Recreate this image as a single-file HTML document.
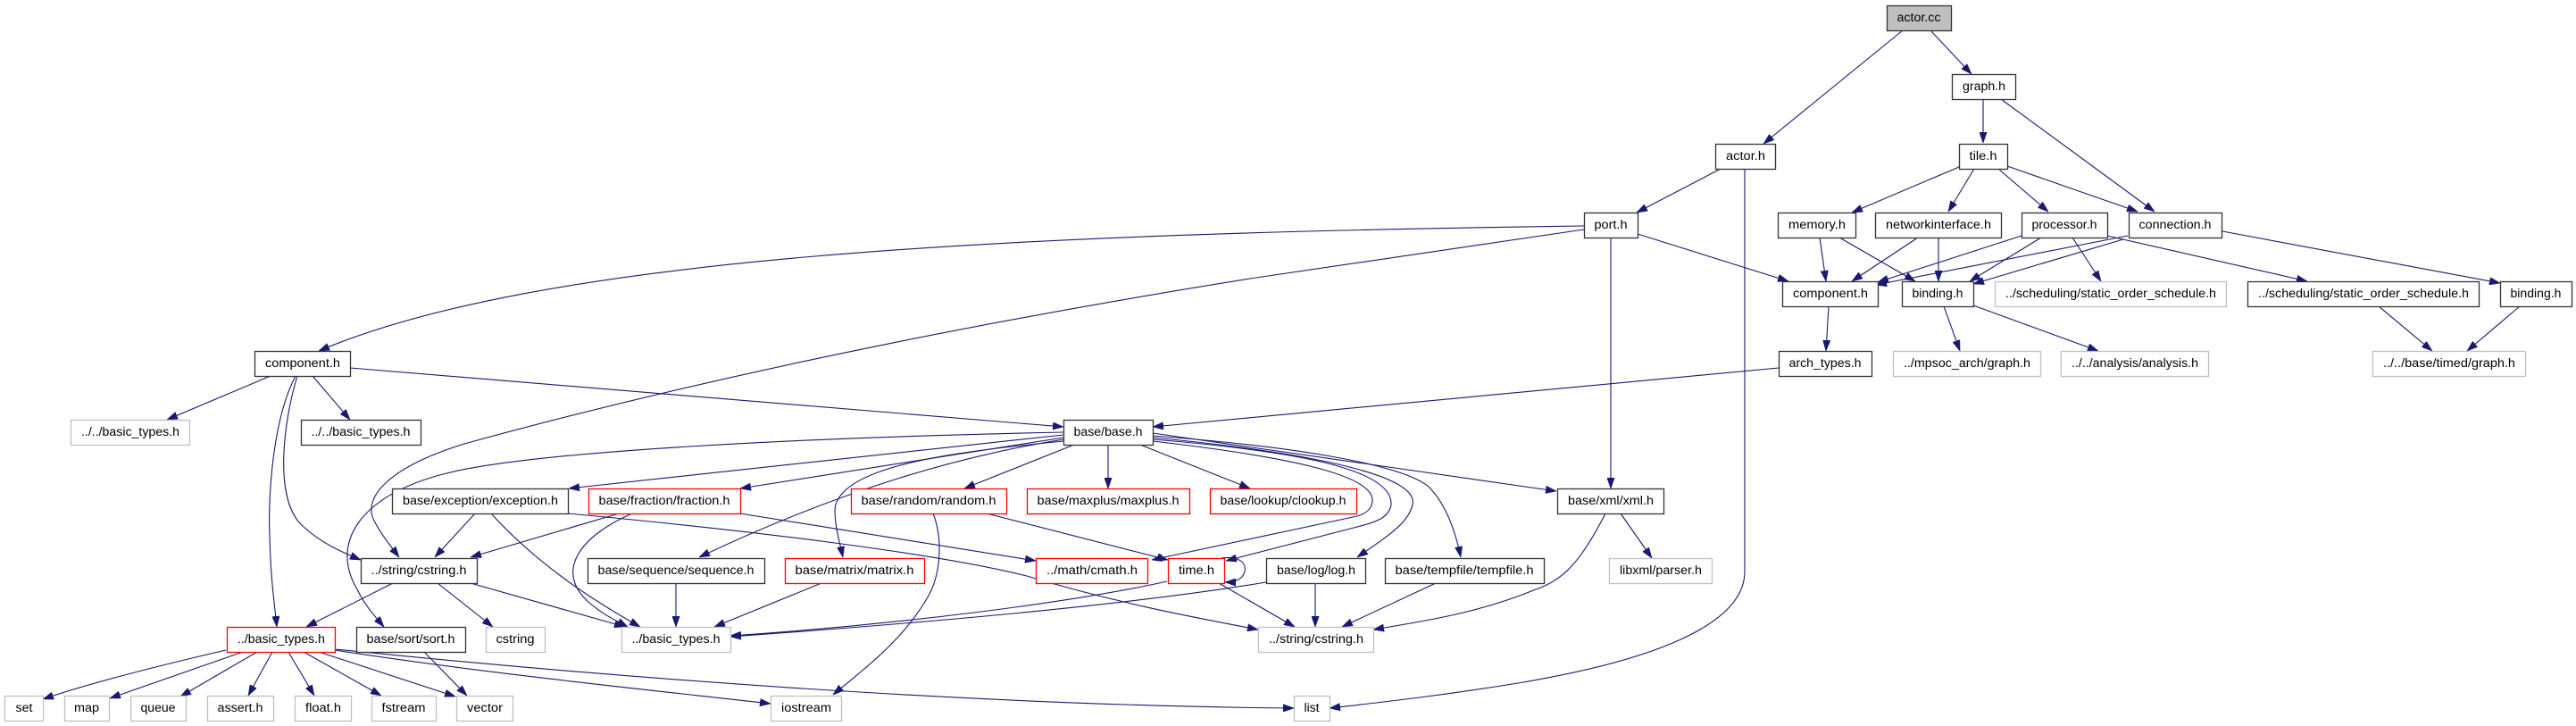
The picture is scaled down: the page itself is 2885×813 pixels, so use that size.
<!DOCTYPE html>
<html><head><meta charset="utf-8"><style>
html,body{margin:0;padding:0;background:#fff;}
svg{display:block;}
.e{fill:none;stroke:#191970;stroke-width:1.1;marker-end:url(#a);}
.n rect{fill:#fff;stroke:#333;stroke-width:1.3;}
.g rect{fill:#fff;stroke:#bfbfbf;stroke-width:1.3;}
.r rect{fill:#fff;stroke:#ff0000;stroke-width:1.3;}
text{font-family:"Liberation Sans",sans-serif;font-size:13.5px;fill:#000;text-anchor:middle;}
</style></head><body>
<svg width="2885" height="813" viewBox="0 0 2885 813" xmlns="http://www.w3.org/2000/svg">
<defs><marker id="a" viewBox="0 0 10 7" refX="10" refY="3.5" markerWidth="12" markerHeight="8.5" markerUnits="userSpaceOnUse" orient="auto"><path d="M0,0 L10,3.5 L0,7 z" fill="#191970" stroke="#191970" stroke-width="0.5"/></marker></defs>
<rect width="2885" height="813" fill="#fff"/>
<g>
<path class="e" d="M2131,34 L1975,161"/>
<path class="e" d="M2162,34 L2208,83"/>
<path class="e" d="M2221,111 L2221,160"/>
<path class="e" d="M2241,111 L2413,237"/>
<path class="e" d="M1927,189 L1833,238"/>
<path class="e" d="M1954,189 L1954,640 C1954,700 1850,740 1700,765 C1620,778 1560,785 1489,793"/>
<path class="e" d="M2194,187 L2074,238"/>
<path class="e" d="M2211,189 L2182,237"/>
<path class="e" d="M2238,189 L2294,237"/>
<path class="e" d="M2248,186 L2394,237"/>
<path class="e" d="M1834,262 L2003,315"/>
<path class="e" d="M1804,266 L1804,547"/>
<path class="e" d="M1774,253 C1100,262 600,290 357,393"/>
<path class="e" d="M1774,257 L1400,312 C1100,360 800,420 520,497 C430,525 405,560 420,585 C428,600 438,612 447,624"/>
<path class="e" d="M303,421 L187,470"/>
<path class="e" d="M350,421 L392,470"/>
<path class="e" d="M392,412 L1191,478"/>
<path class="e" d="M331,421 C305,470 300,560 302,600 C303,650 308,680 310,702"/>
<path class="e" d="M333,421 C318,470 305,560 340,590 C360,608 380,617 404,627"/>
<path class="e" d="M1191,487 L637,547"/>
<path class="e" d="M1191,490 L829,547"/>
<path class="e" d="M1191,492 C1080,510 950,545 783,624"/>
<path class="e" d="M1191,494 C1080,505 940,520 935,570 C935,590 940,605 944,624"/>
<path class="e" d="M1191,484 C900,490 600,505 500,530 C400,555 370,610 400,660 C410,680 420,690 430,702"/>
<path class="e" d="M1203,498 L1080,547"/>
<path class="e" d="M1241,498 L1241,547"/>
<path class="e" d="M1277,498 L1400,547"/>
<path class="e" d="M1291,485 L1743,550"/>
<path class="e" d="M1291,488 C1450,500 1570,520 1600,545 C1620,565 1630,595 1636,624"/>
<path class="e" d="M1291,490 C1450,505 1590,530 1582,565 C1578,585 1555,600 1520,624"/>
<path class="e" d="M1291,492 C1450,505 1560,525 1558,565 C1556,580 1540,585 1520,590 L1373,628"/>
<path class="e" d="M1291,494 C1430,510 1537,530 1537,560 C1537,570 1530,575 1520,578 L1290,627"/>
<path class="e" d="M1105,575 L1308,627"/>
<path class="e" d="M1045,575 C1055,600 1055,640 1040,667 C1010,720 960,755 933,778"/>
<path class="e" d="M1368,625 C1390,622 1396,632 1394,640 C1392,648 1385,652 1372,652"/>
<path class="e" d="M1307,651 C1200,675 1000,700 818,712"/>
<path class="e" d="M1418,652 C1250,680 1000,700 818,713"/>
<path class="e" d="M1365,653 L1450,702"/>
<path class="e" d="M1473,653 L1473,702"/>
<path class="e" d="M1608,653 L1503,702"/>
<path class="e" d="M1798,575 C1770,630 1750,650 1720,660 C1660,685 1600,695 1538,705"/>
<path class="e" d="M1815,575 L1850,625"/>
<path class="e" d="M1992,412 L1291,478"/>
<path class="e" d="M532,575 L487,624"/>
<path class="e" d="M550,575 C600,630 660,670 717,702"/>
<path class="e" d="M636,575 C850,595 1050,620 1150,645 C1250,675 1330,690 1409,705"/>
<path class="e" d="M693,575 L527,624"/>
<path class="e" d="M708,575 C650,600 620,640 660,675 C675,688 690,695 703,702"/>
<path class="e" d="M829,575 L1160,628"/>
<path class="e" d="M757,653 L757,702"/>
<path class="e" d="M920,653 L800,702"/>
<path class="e" d="M440,653 L343,702"/>
<path class="e" d="M490,653 L552,702"/>
<path class="e" d="M527,653 L700,702"/>
<path class="e" d="M475,730 L523,779"/>
<path class="e" d="M253,728 C180,745 100,765 48,783"/>
<path class="e" d="M272,730 L123,782"/>
<path class="e" d="M288,730 L202,780"/>
<path class="e" d="M305,730 L278,779"/>
<path class="e" d="M323,730 L352,779"/>
<path class="e" d="M340,730 L427,779"/>
<path class="e" d="M357,730 L510,780"/>
<path class="e" d="M375,728 C550,755 750,775 863,788"/>
<path class="e" d="M375,727 C700,760 1100,790 1449,793"/>
<path class="e" d="M2038,266 L2045,315"/>
<path class="e" d="M2060,266 L2145,315"/>
<path class="e" d="M2148,266 L2074,315"/>
<path class="e" d="M2171,266 L2171,315"/>
<path class="e" d="M2264,264 L2103,316"/>
<path class="e" d="M2286,266 L2206,315"/>
<path class="e" d="M2321,266 L2353,315"/>
<path class="e" d="M2360,264 L2584,315"/>
<path class="e" d="M2383,264 L2101,319"/>
<path class="e" d="M2378,268 L2210,318"/>
<path class="e" d="M2489,259 L2800,317"/>
<path class="e" d="M2048,343 L2045,393"/>
<path class="e" d="M2177,343 L2195,393"/>
<path class="e" d="M2210,342 L2350,393"/>
<path class="e" d="M2664,343 L2724,393"/>
<path class="e" d="M2822,343 L2763,393"/>
</g>

<g class="n"><rect x="2113.5" y="6.5" width="72" height="28" style="fill:#bfbfbf"/><text x="2149" y="24" textLength="49" lengthAdjust="spacingAndGlyphs">actor.cc</text></g>
<g class="n"><rect x="2186.5" y="83.5" width="71" height="28"/><text x="2222" y="101" textLength="48" lengthAdjust="spacingAndGlyphs">graph.h</text></g>
<g class="n"><rect x="1921.5" y="161.5" width="67" height="28"/><text x="1955" y="179" textLength="44" lengthAdjust="spacingAndGlyphs">actor.h</text></g>
<g class="n"><rect x="2194.5" y="161.5" width="54" height="28"/><text x="2221" y="179" textLength="31" lengthAdjust="spacingAndGlyphs">tile.h</text></g>

<g class="n"><rect x="1774.5" y="238.5" width="60" height="28"/><text x="1804" y="256" textLength="37" lengthAdjust="spacingAndGlyphs">port.h</text></g>
<g class="n"><rect x="1991.5" y="238.5" width="87" height="28"/><text x="2035" y="256" textLength="64" lengthAdjust="spacingAndGlyphs">memory.h</text></g>
<g class="n"><rect x="2100.5" y="238.5" width="141" height="28"/><text x="2171" y="256" textLength="118" lengthAdjust="spacingAndGlyphs">networkinterface.h</text></g>
<g class="n"><rect x="2264.5" y="238.5" width="96" height="28"/><text x="2312" y="256" textLength="73" lengthAdjust="spacingAndGlyphs">processor.h</text></g>
<g class="n"><rect x="2384.5" y="238.5" width="104" height="28"/><text x="2436" y="256" textLength="81" lengthAdjust="spacingAndGlyphs">connection.h</text></g>

<g class="n"><rect x="1996.5" y="315.5" width="107" height="28"/><text x="2050" y="333" textLength="84" lengthAdjust="spacingAndGlyphs">component.h</text></g>
<g class="n"><rect x="2130.5" y="315.5" width="80" height="28"/><text x="2170" y="333" textLength="57" lengthAdjust="spacingAndGlyphs">binding.h</text></g>
<g class="g"><rect x="2234.5" y="315.5" width="259" height="28"/><text x="2364" y="333" textLength="236" lengthAdjust="spacingAndGlyphs">../scheduling/static_order_schedule.h</text></g>
<g class="n"><rect x="2517.5" y="315.5" width="259" height="28"/><text x="2647" y="333" textLength="236" lengthAdjust="spacingAndGlyphs">../scheduling/static_order_schedule.h</text></g>
<g class="n"><rect x="2800.5" y="315.5" width="80" height="28"/><text x="2840" y="333" textLength="57" lengthAdjust="spacingAndGlyphs">binding.h</text></g>

<g class="n"><rect x="285.5" y="393.5" width="107" height="28"/><text x="339" y="411" textLength="84" lengthAdjust="spacingAndGlyphs">component.h</text></g>
<g class="n"><rect x="1992.5" y="393.5" width="104" height="28"/><text x="2044" y="411" textLength="81" lengthAdjust="spacingAndGlyphs">arch_types.h</text></g>
<g class="g"><rect x="2120.5" y="393.5" width="165" height="28"/><text x="2203" y="411" textLength="142" lengthAdjust="spacingAndGlyphs">../mpsoc_arch/graph.h</text></g>
<g class="g"><rect x="2308.5" y="393.5" width="165" height="28"/><text x="2391" y="411" textLength="142" lengthAdjust="spacingAndGlyphs">../../analysis/analysis.h</text></g>
<g class="g"><rect x="2657.5" y="393.5" width="171" height="28"/><text x="2743" y="411" textLength="148" lengthAdjust="spacingAndGlyphs">../../base/timed/graph.h</text></g>

<g class="g"><rect x="79.5" y="470.5" width="133" height="28"/><text x="146" y="488" textLength="110" lengthAdjust="spacingAndGlyphs">../../basic_types.h</text></g>
<g class="n"><rect x="337.5" y="470.5" width="134" height="28"/><text x="404" y="488" textLength="111" lengthAdjust="spacingAndGlyphs">../../basic_types.h</text></g>
<g class="n"><rect x="1191.5" y="470.5" width="100" height="28"/><text x="1241" y="488" textLength="77" lengthAdjust="spacingAndGlyphs">base/base.h</text></g>

<g class="n"><rect x="439.5" y="547.5" width="197" height="28"/><text x="538" y="565" textLength="174" lengthAdjust="spacingAndGlyphs">base/exception/exception.h</text></g>
<g class="r"><rect x="659.5" y="547.5" width="170" height="28"/><text x="744" y="565" textLength="147" lengthAdjust="spacingAndGlyphs">base/fraction/fraction.h</text></g>
<g class="r"><rect x="953.5" y="547.5" width="174" height="28"/><text x="1040" y="565" textLength="151" lengthAdjust="spacingAndGlyphs">base/random/random.h</text></g>
<g class="r"><rect x="1150.5" y="547.5" width="182" height="28"/><text x="1241" y="565" textLength="159" lengthAdjust="spacingAndGlyphs">base/maxplus/maxplus.h</text></g>
<g class="r"><rect x="1355.5" y="547.5" width="164" height="28"/><text x="1437" y="565" textLength="141" lengthAdjust="spacingAndGlyphs">base/lookup/clookup.h</text></g>
<g class="n"><rect x="1744.5" y="547.5" width="119" height="28"/><text x="1804" y="565" textLength="96" lengthAdjust="spacingAndGlyphs">base/xml/xml.h</text></g>

<g class="n"><rect x="404.5" y="625.5" width="130" height="28"/><text x="469" y="643" textLength="107" lengthAdjust="spacingAndGlyphs">../string/cstring.h</text></g>
<g class="n"><rect x="658.5" y="625.5" width="198" height="28"/><text x="757" y="643" textLength="175" lengthAdjust="spacingAndGlyphs">base/sequence/sequence.h</text></g>
<g class="r"><rect x="879.5" y="625.5" width="156" height="28"/><text x="957" y="643" textLength="133" lengthAdjust="spacingAndGlyphs">base/matrix/matrix.h</text></g>
<g class="r"><rect x="1160.5" y="625.5" width="125" height="28"/><text x="1223" y="643" textLength="102" lengthAdjust="spacingAndGlyphs">../math/cmath.h</text></g>
<g class="r"><rect x="1308.5" y="625.5" width="63" height="28"/><text x="1340" y="643" textLength="40" lengthAdjust="spacingAndGlyphs">time.h</text></g>
<g class="n"><rect x="1418.5" y="625.5" width="111" height="28"/><text x="1474" y="643" textLength="88" lengthAdjust="spacingAndGlyphs">base/log/log.h</text></g>
<g class="n"><rect x="1551.5" y="625.5" width="178" height="28"/><text x="1640" y="643" textLength="155" lengthAdjust="spacingAndGlyphs">base/tempfile/tempfile.h</text></g>
<g class="g"><rect x="1802.5" y="625.5" width="115" height="28"/><text x="1860" y="643" textLength="92" lengthAdjust="spacingAndGlyphs">libxml/parser.h</text></g>

<g class="r"><rect x="254.5" y="702.5" width="121" height="28"/><text x="315" y="720" textLength="98" lengthAdjust="spacingAndGlyphs">../basic_types.h</text></g>
<g class="n"><rect x="399.5" y="702.5" width="122" height="28"/><text x="460" y="720" textLength="99" lengthAdjust="spacingAndGlyphs">base/sort/sort.h</text></g>
<g class="g"><rect x="544.5" y="702.5" width="66" height="28"/><text x="577" y="720" textLength="43" lengthAdjust="spacingAndGlyphs">cstring</text></g>
<g class="g"><rect x="696.5" y="702.5" width="122" height="28"/><text x="757" y="720" textLength="99" lengthAdjust="spacingAndGlyphs">../basic_types.h</text></g>
<g class="g"><rect x="1409.5" y="702.5" width="129" height="28"/><text x="1474" y="720" textLength="106" lengthAdjust="spacingAndGlyphs">../string/cstring.h</text></g>

<g class="g"><rect x="5.5" y="779.5" width="43" height="28"/><text x="27" y="797" textLength="19" lengthAdjust="spacingAndGlyphs">set</text></g>
<g class="g"><rect x="72.5" y="779.5" width="50" height="28"/><text x="97" y="797" textLength="28" lengthAdjust="spacingAndGlyphs">map</text></g>
<g class="g"><rect x="146.5" y="779.5" width="62" height="28"/><text x="177" y="797" textLength="39" lengthAdjust="spacingAndGlyphs">queue</text></g>
<g class="g"><rect x="232.5" y="779.5" width="74" height="28"/><text x="269" y="797" textLength="51" lengthAdjust="spacingAndGlyphs">assert.h</text></g>
<g class="g"><rect x="330.5" y="779.5" width="63" height="28"/><text x="362" y="797" textLength="40" lengthAdjust="spacingAndGlyphs">float.h</text></g>
<g class="g"><rect x="416.5" y="779.5" width="72" height="28"/><text x="452" y="797" textLength="49" lengthAdjust="spacingAndGlyphs">fstream</text></g>
<g class="g"><rect x="511.5" y="779.5" width="63" height="28"/><text x="543" y="797" textLength="40" lengthAdjust="spacingAndGlyphs">vector</text></g>
<g class="g"><rect x="863.5" y="779.5" width="79" height="28"/><text x="903" y="797" textLength="56" lengthAdjust="spacingAndGlyphs">iostream</text></g>
<g class="g"><rect x="1449.5" y="779.5" width="40" height="28"/><text x="1469" y="797" textLength="17" lengthAdjust="spacingAndGlyphs">list</text></g>
</svg>
</body></html>
